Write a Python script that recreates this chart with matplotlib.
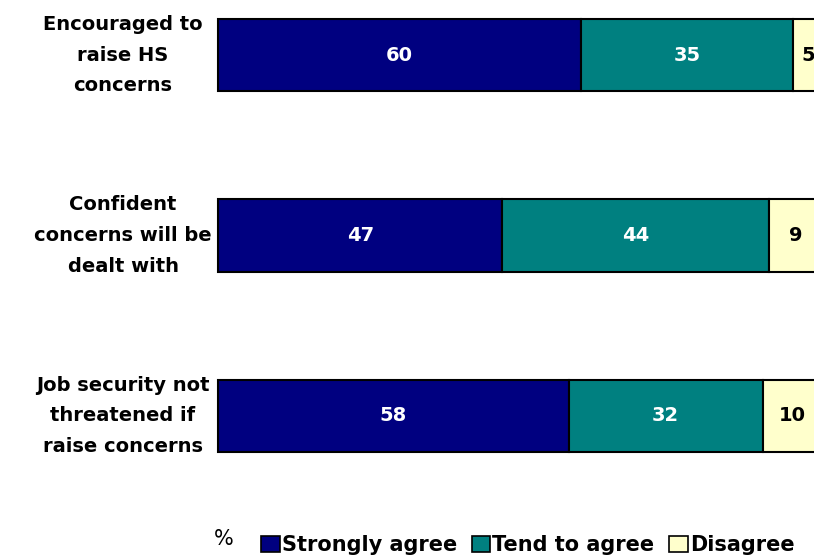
import matplotlib
matplotlib.use('Agg')
import matplotlib.pyplot as plt
from matplotlib.patches import Patch

# survey items and shares (%)
items = ['Encouraged to\nraise HS\nconcerns',
         'Confident\nconcerns will be\ndealt with',
         'Job security not\nthreatened if\nraise concerns']
strongly_agree = [60, 47, 58]
tend_to_agree = [35, 44, 32]
disagree = [5, 9, 10]
series_names = ['Strongly agree', 'Tend to agree', 'Disagree']

colors = ['#000080', '#008080', '#FFFFCC']
text_colors = ['white', 'white', 'black']

W, H = 814, 559
fig = plt.figure(figsize=(W / 100, H / 100), dpi=100)
plt.rcParams['font.family'] = 'DejaVu Sans'

# axes starts at x=218 px, 100% spans ~605 px (runs past the right edge)
px_per_unit = 6.05
ax_left = 218
ax_top, ax_bottom = 1, 470
ax = fig.add_axes([ax_left / W, (H - ax_bottom) / H,
                   100 * px_per_unit / W, (ax_bottom - ax_top) / H])
ax.set_xlim(0, 100)
ax.set_ylim(2.3, -0.3)
ax.axis('off')

ypos = list(range(len(items)))
left = [0] * len(items)
for vals, col, tcol in zip([strongly_agree, tend_to_agree, disagree], colors, text_colors):
    ax.barh(ypos, vals, left=left, height=0.4, color=col,
            edgecolor='black', linewidth=1.5, clip_on=False)
    for y, l, v in zip(ypos, left, vals):
        ax.text(l + v / 2, y, str(v), ha='center', va='center',
                color=tcol, fontsize=14, fontweight='bold', clip_on=False)
    left = [a + b for a, b in zip(left, vals)]

# category labels, centred to the left of the bars
for y, lab in zip(ypos, items):
    yf = ax.transData.transform((0, y))[1] / H
    fig.text(123 / W, yf, lab, ha='center', va='center', fontsize=14,
             fontweight='bold', linespacing=1.78, multialignment='center')

# legend along the bottom
fig.text(224 / W, (H - 539) / H, '%', ha='center', va='center', fontsize=15)
handles = [Patch(facecolor=c, edgecolor='black', linewidth=1.2) for c in colors]
fig.legend(handles, series_names, loc='center left',
           bbox_to_anchor=(261 / W, (H - 545) / H), ncol=3, frameon=False,
           handlelength=0.9, handleheight=0.8, handletextpad=0.1,
           columnspacing=0.7, borderaxespad=0, borderpad=0,
           prop={'size': 15, 'weight': 'bold'})

fig.savefig('out.png', dpi=100)
